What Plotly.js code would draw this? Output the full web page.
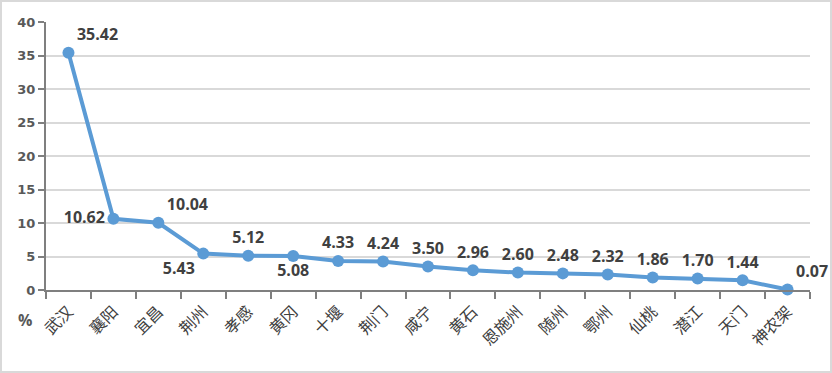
<!DOCTYPE html>
<html><head><meta charset="utf-8">
<script src="https://cdn.plot.ly/plotly-3.0.1.min.js"></script>
<style>
html,body{margin:0;padding:0;background:#fff;}
#wrap{position:relative;width:832px;height:373px;}
#frame{position:absolute;left:0;top:0;width:832px;height:373px;box-sizing:border-box;border:2px solid #d9d9d9;pointer-events:none;}
</style></head>
<body>
<div id="wrap"><div id="chart" style="width:832px;height:373px;"></div><div id="frame"></div></div>
<script>
var categories = ["武汉","襄阳","宜昌","荆州","孝感","黄冈","十堰","荆门","咸宁","黄石","恩施州","随州","鄂州","仙桃","潜江","天门","神农架"];
var values = [35.42,10.62,10.04,5.43,5.12,5.08,4.33,4.24,3.50,2.96,2.60,2.48,2.32,1.86,1.70,1.44,0.07];
var yTicks = [0,5,10,15,20,25,30,35,40];

var labelPos = ["top right","middle left","top right","bottom left","top center","bottom center",
  "top center","top center","top center","top center","top center","top center","top center",
  "top center","top center","top center","top right"];

var trace = {
  type: "scatter",
  mode: "lines+markers+text",
  x: categories,
  y: values,
  text: values.map(function(v){return v.toFixed(2);}),
  textposition: labelPos,
  textfont: {family: "Open Sans", size: 16, color: "#404040", weight: "bold"},
  line: {color: "#5B9BD5", width: 4},
  marker: {color: "#5B9BD5", size: 12},
  cliponaxis: false,
  hoverinfo: "skip"
};

var layout = {
  width: 832, height: 373,
  margin: {l: 46, r: 22, t: 22, b: 83},
  paper_bgcolor: "#ffffff",
  plot_bgcolor: "#ffffff",
  showlegend: false,
  xaxis: {
    type: "category",
    range: [-0.5, categories.length - 0.5],
    showline: true, linecolor: "#7f7f7f", linewidth: 2,
    ticks: "outside", tickson: "boundaries", ticklen: 7, tickwidth: 2, tickcolor: "#7f7f7f",
    tickangle: -45,
    ticklabelstandoff: 4,
    tickfont: {family: "Noto Sans CJK SC", size: 16, color: "#404040"},
    showgrid: false, zeroline: false
  },
  yaxis: {
    range: [0, 40],
    tickvals: yTicks,
    ticktext: yTicks.map(String),
    showline: true, linecolor: "#7f7f7f", linewidth: 2,
    ticks: "outside", ticklen: 6, tickwidth: 2, tickcolor: "#7f7f7f",
    tickfont: {family: "DejaVu Sans", size: 13, color: "#595959", weight: "bold"},
    showgrid: true, gridcolor: "#d9d9d9", gridwidth: 2,
    zeroline: false
  },
  annotations: [{
    text: "%", xref: "paper", yref: "paper",
    x: -0.0275, y: -0.112, xanchor: "center", yanchor: "middle",
    showarrow: false,
    font: {family: "Open Sans", size: 16, color: "#595959", weight: "bold"}
  }]
};

Plotly.newPlot("chart", [trace], layout, {displayModeBar: false, staticPlot: true});
</script>
</body></html>
